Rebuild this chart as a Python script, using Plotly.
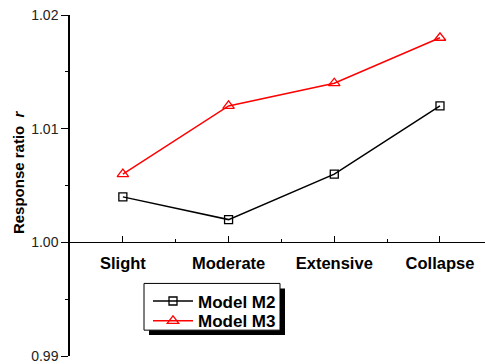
import plotly.graph_objects as go

categories = ["Slight", "Moderate", "Extensive", "Collapse"]
m2_values = [1.004, 1.002, 1.006, 1.012]
m3_values = [1.006, 1.012, 1.014, 1.018]
y_ticks = [0.99, 1.00, 1.01, 1.02]
y_minor = [0.995, 1.005, 1.015]

xpos = list(range(len(categories)))
FONT = "Arial, Liberation Sans, sans-serif"

fig = go.Figure()
fig.add_trace(go.Scatter(
    x=xpos, y=m2_values, name="<b>Model M2</b>", mode="lines+markers",
    line=dict(color="black", width=1.5),
    marker=dict(symbol="square-open", size=8, color="black", line=dict(width=1.3)),
    legend="legend",
))
fig.add_trace(go.Scatter(
    x=xpos, y=m3_values, name="<b>Model M3</b>", mode="lines+markers",
    line=dict(color="#ff0000", width=1.5),
    marker=dict(symbol="triangle-up-open", size=10, color="#ff0000", line=dict(width=1.3)),
    legend="legend2",
))

W, H = 485, 364
L, R, T, B = 70, 0, 15, 6
pw, ph = W - L - R, H - T - B

def px(x):
    return (x - L) / pw
def py(y):
    return (H - B - y) / ph

leg_common = dict(
    xanchor="left", yanchor="top",
    bgcolor="rgba(0,0,0,0)", borderwidth=0,
    font=dict(size=17, family=FONT, color="black"),
    itemwidth=40,
)

fig.update_layout(
    width=W, height=H,
    margin=dict(l=L, r=R, t=T, b=B),
    paper_bgcolor="white", plot_bgcolor="white",
    font=dict(family=FONT, color="black"),
    showlegend=True,
    legend=dict(x=px(148), y=py(285), **leg_common),
    legend2=dict(x=px(148), y=py(305), **leg_common),
    xaxis=dict(
        range=[-0.5, (485 - 123) / 105.67],
        tickmode="array", tickvals=xpos, ticktext=["<b>%s</b>" % c for c in categories],
        ticks="inside", ticklen=6, tickwidth=1, tickcolor="black",
        showline=True, linecolor="black", linewidth=1,
        showgrid=False, zeroline=False,
        anchor="free", position=1 / 3,
        ticklabelstandoff=6,
        tickfont=dict(size=16.5, family=FONT, color="black"),
        minor=dict(tickmode="array", tickvals=[0.5, 1.5, 2.5], ticks="inside",
                   ticklen=3, tickcolor="black", showgrid=False),
    ),
    yaxis=dict(
        range=[0.99, 1.02],
        tickmode="array", tickvals=y_ticks, ticktext=["%.2f" % v for v in y_ticks],
        ticks="outside", ticklen=7, tickwidth=1, tickcolor="black",
        showline=True, linecolor="black", linewidth=1.5,
        showgrid=False, zeroline=False,
        ticklabeloverflow="allow",
        tickfont=dict(size=14, family=FONT, color="#222"),
        minor=dict(tickmode="array", tickvals=y_minor, ticks="outside",
                   ticklen=3, tickcolor="black", showgrid=False),
    ),
)

# legend box with drop shadow (drawn behind the transparent legends)
bx0, bx1, by0, by1 = 144, 280, 285, 332
fig.add_shape(type="rect", xref="paper", yref="paper",
              x0=px(bx0 + 5), x1=px(bx1 + 5), y0=py(by1 + 5), y1=py(by0 + 5),
              fillcolor="black", line=dict(width=0), layer="below")
fig.add_shape(type="rect", xref="paper", yref="paper",
              x0=px(bx0), x1=px(bx1), y0=py(by1), y1=py(by0),
              fillcolor="white", line=dict(color="black", width=1), layer="below")

fig.add_annotation(
    text="<b>Response ratio  <i>r</i></b>", textangle=-90,
    xref="paper", yref="paper", x=px(18), y=py(173),
    xanchor="center", yanchor="middle", showarrow=False,
    font=dict(size=15, family=FONT, color="black"),
)

fig.write_html("out.html")
